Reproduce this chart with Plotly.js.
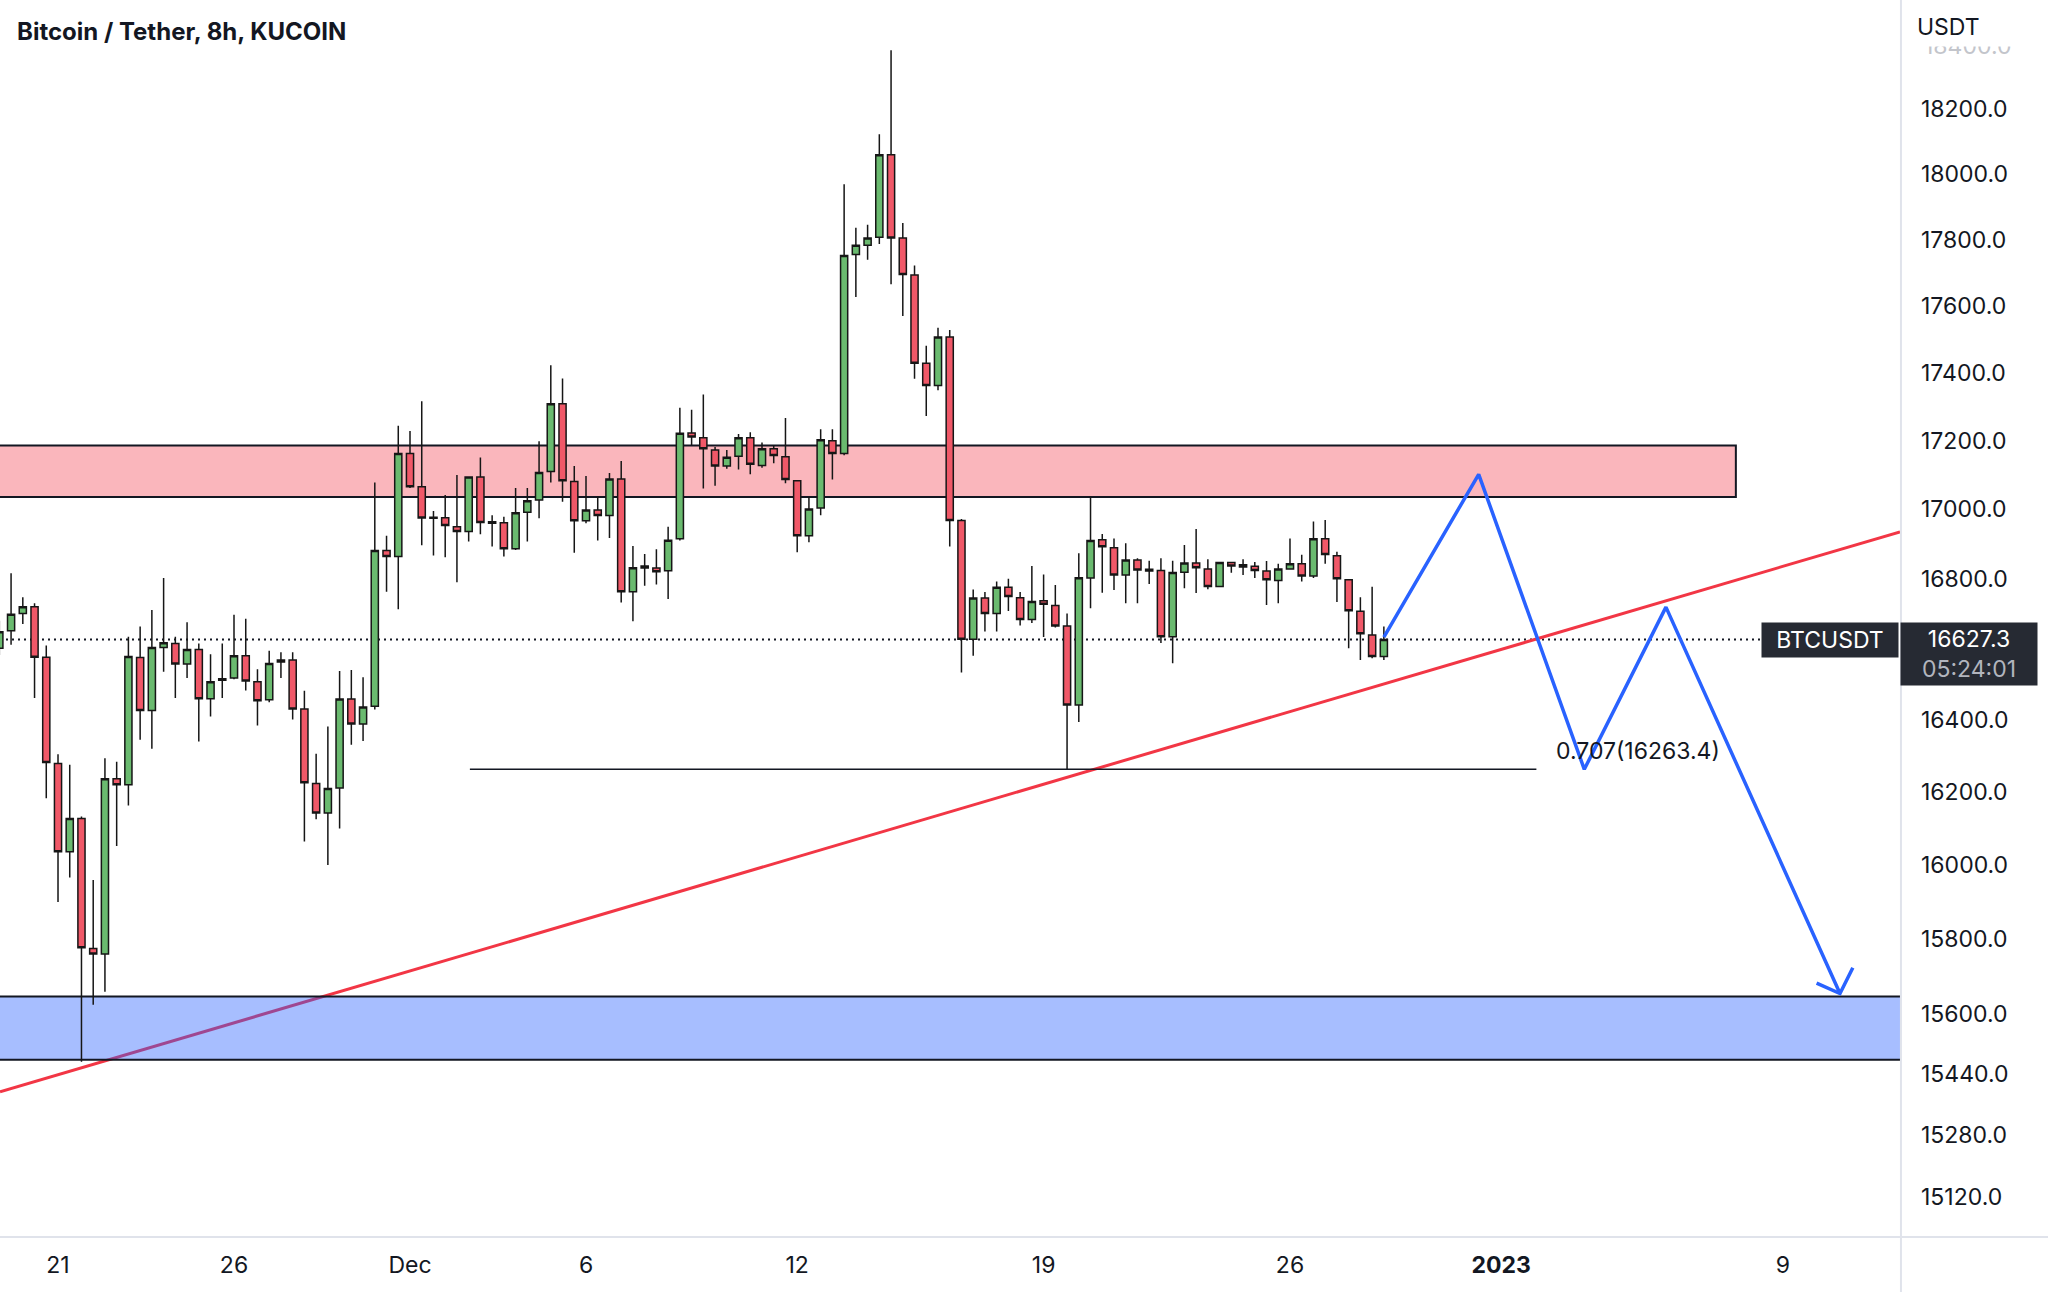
<!DOCTYPE html>
<html>
<head>
<meta charset="utf-8">
<script src="https://cdn.plot.ly/plotly-3.0.1.min.js"></script>
<style>
  html, body { margin: 0; padding: 0; background: #ffffff; }
  #chart { width: 2048px; height: 1292px; }
</style>
</head>
<body>
<div id="chart"></div>
<script>
// ---- Data: BTCUSDT 8h candles, first candle 2022-11-19 08:00 (UTC) ----
const firstCandle = '2022-11-19T08:00:00Z';
const candleHours = 8;

const open = [
  16602,16652,16701,16720,16577,16279,16036,16127,15774,15759,
  16237,16220,16576,16427,16604,16616,16558,16599,16460,16512,
  16518,16581,16508,16457,16569,16569,16431,16224,16142,16211,
  16459,16389,16439,16881,16864,17163,17066,16977,16976,16950,
  16936,17094,16964,16961,16886,16992,17027,17110,17309,17081,
  16967,16998,16982,17088,16763,16831,16831,16823,16915,17223,
  17209,17173,17126,17155,17209,17128,17177,17153,17083,16924,
  17004,17200,17163,17755,17783,17807,18060,17805,17693,17429,
  17363,17507,16968,16628,16745,16701,16776,16746,16684,16737,
  16724,16665,16442,16802,16912,16889,16811,16854,16827,16824,
  16635,16819,16845,16828,16778,16847,16840,16836,16822,16795,
  16828,16843,16808,16915,16866,16797,16707,16640,16579
];
const high = [
  16680,16816,16747,16730,16610,16305,16276,16133,15959,16294,
  16284,16635,16664,16711,16802,16635,16676,16616,16585,16616,
  16697,16686,16543,16595,16591,16591,16482,16306,16382,16538,
  16541,16520,17078,16924,17244,17229,17316,16995,17042,17100,
  17096,17151,16983,16979,17062,17062,17199,17423,17384,17126,
  17097,17039,17106,17141,16894,16871,16885,16950,17297,17291,
  17336,17182,17173,17220,17225,17195,17188,17267,17085,17036,
  17234,17234,17969,17836,17845,18123,18384,17851,17722,17481,
  17535,17528,16972,16769,16762,16792,16800,16762,16837,16812,
  16782,16701,16873,17037,16929,16916,16902,16859,16852,16859,
  16852,16897,16943,16856,16847,16847,16856,16848,16851,16843,
  16916,16869,16965,16969,16878,16797,16747,16777,16664
];
const low = [
  16583,16612,16671,16462,16183,15899,15966,15472,15623,15658,
  16052,16163,16345,16320,16536,16462,16518,16340,16410,16462,
  16515,16483,16385,16450,16518,16402,16064,16125,16000,16100,
  16331,16342,16430,16763,16713,17062,16896,16867,16862,16790,
  16907,16928,16893,16864,16883,16907,16974,17078,17022,16875,
  16960,16910,16917,16732,16679,16780,16784,16742,16910,17188,
  17061,17069,17118,17116,17102,17121,17134,17076,16876,16905,
  16983,17087,17158,17627,17739,17787,17665,17570,17383,17273,
  17349,16893,16534,16581,16650,16650,16708,16667,16674,16634,
  16661,16263.4,16395,16716,16760,16768,16730,16730,16785,16617,
  16560,16773,16759,16770,16778,16817,16811,16802,16725,16730,
  16826,16792,16802,16843,16734,16602,16569,16574,16569
];
const close = [
  16649,16699,16720,16577,16282,16036,16127,15776,15759,16237,
  16220,16579,16427,16604,16618,16558,16599,16460,16508,16516,
  16581,16510,16454,16559,16563,16431,16226,16142,16210,16459,
  16389,16437,16881,16864,17163,17066,16975,16974,16953,16936,
  17094,16962,16960,16886,16990,17025,17107,17309,17083,16967,
  16998,16982,17088,16763,16832,16837,16820,16911,17222,17211,
  17177,17126,17152,17209,17131,17177,17157,17087,16924,17001,
  17203,17163,17752,17783,17805,18060,17805,17695,17429,17363,
  17507,16968,16628,16745,16701,16776,16749,16684,16735,16727,
  16665,16442,16803,16910,16892,16811,16854,16825,16822,16635,
  16818,16845,16832,16778,16847,16837,16834,16824,16797,16828,
  16843,16808,16915,16870,16800,16709,16643,16579,16627.3
];

// Axis ticks
const priceTicks = [15120,15280,15440,15600,15800,16000,16200,16400,16800,17000,17200,17400,17600,17800,18000,18200];
const dateTicks = ['2022-11-21','2022-11-26','2022-12-01','2022-12-06','2022-12-12','2022-12-19','2022-12-26','2023-01-01','2023-01-09'];
const dateTickLabels = ['21','26','Dec','6','12','19','26','<b>2023</b>','9'];

// Drawings
const resistanceZone = [17036, 17186];          // pink box (price bottom, top)
const resistanceEnd = '2023-01-07 16:00';
const supportZone = [15477, 15645];             // blue box (price bottom, top)
const trendTimes = ['2022-11-19 08:27', '2023-01-12 07:55'];
const trendPrices = [15393, 16935];
const fibTimes = ['2022-12-02 16:50', '2023-01-02 00:00'];
const fibPrice = 16263.4;
const fibLabel = '0.707(16263.4)';
const pathTimes = ['2022-12-28 16:00','2022-12-31 08:40','2023-01-03 08:40','2023-01-05 16:20','2023-01-10 15:00'];
const pathPrices = [16634, 17102, 16263, 16719, 15653];
const arrowTimes = ['2023-01-09 23:03','2023-01-10 15:00','2023-01-10 23:45'];
const arrowPrices = [15681, 15653, 15722];
const lastPrice = 16627.3;
const countdown = '05:24:01';
const symbol = 'BTCUSDT';
const topTickFaded = 18400;

// ---- build ----
const t0 = Date.parse(firstCandle);
function fmt(ms) { return new Date(ms).toISOString().slice(0, 16).replace('T', ' '); }
const times = open.map((_, i) => fmt(t0 + i * candleHours * 3600e3));

const FONT = 'Inter, "Noto Sans", Roboto, sans-serif';
const TXT = '#131722';

const W = 2048, H = 1292, R = 148, B = 55;
const PW = W - R, PH = H - B;
const px = x => x / PW;
const py = y => 1 - y / PH;

const traces = [
  {
    type: 'candlestick',
    x: times, open: open, high: high, low: low, close: close,
    increasing: { line: { color: '#161616', width: 1.5 }, fillcolor: '#6aba6f' },
    decreasing: { line: { color: '#161616', width: 1.5 }, fillcolor: '#f05868' },
    whiskerwidth: 0,
    hoverinfo: 'skip',
    showlegend: false
  },
  {
    type: 'scatter', mode: 'lines',
    x: fibTimes, y: [fibPrice, fibPrice],
    line: { color: TXT, width: 1.6 },
    hoverinfo: 'skip', showlegend: false
  },
  {
    type: 'scatter', mode: 'lines',
    x: pathTimes, y: pathPrices,
    line: { color: '#2962ff', width: 3.5 },
    hoverinfo: 'skip', showlegend: false
  },
  {
    type: 'scatter', mode: 'lines',
    x: arrowTimes, y: arrowPrices,
    line: { color: '#2962ff', width: 3.5 },
    hoverinfo: 'skip', showlegend: false
  }
];

const shapes = [
  { type: 'rect', xref: 'x', yref: 'y', layer: 'below',
    x0: '2022-11-15', x1: resistanceEnd, y0: resistanceZone[0], y1: resistanceZone[1],
    fillcolor: 'rgba(242,54,69,0.36)', line: { color: TXT, width: 2 } },
  { type: 'line', xref: 'x', yref: 'y', layer: 'below',
    x0: trendTimes[0], x1: trendTimes[1], y0: trendPrices[0], y1: trendPrices[1],
    line: { color: '#f23645', width: 3 } },
  { type: 'rect', xref: 'x', yref: 'y', layer: 'below',
    x0: '2022-11-15', x1: '2023-01-25', y0: supportZone[0], y1: supportZone[1],
    fillcolor: 'rgba(41,98,255,0.41)', line: { color: TXT, width: 2 } },
  { type: 'line', xref: 'paper', yref: 'y', layer: 'below',
    x0: 0, x1: 1, y0: lastPrice, y1: lastPrice,
    line: { color: TXT, width: 2, dash: '2px,4px' } },
  { type: 'line', xref: 'paper', yref: 'paper', layer: 'above',
    x0: 1.0005, x1: 1.0005, y0: -B / PH, y1: 1,
    line: { color: '#e0e3eb', width: 2 } },
  { type: 'line', xref: 'paper', yref: 'paper', layer: 'above',
    x0: 0, x1: W / PW, y0: 0, y1: 0,
    line: { color: '#e0e3eb', width: 2 } }
];

const annotations = [
  { xref: 'paper', yref: 'paper', x: px(15), y: py(32), xanchor: 'left', yanchor: 'middle',
    text: '<b>Bitcoin / Tether, 8h, KUCOIN</b>', showarrow: false,
    font: { family: FONT, size: 24, color: TXT } },
  { xref: 'paper', yref: 'paper', x: px(1922), y: py(46), xanchor: 'left', yanchor: 'middle',
    text: topTickFaded.toFixed(1), showarrow: false,
    font: { family: FONT, size: 23, color: '#c3c5cb' } },
  { xref: 'paper', yref: 'paper', x: px(1916), y: py(26.5), xanchor: 'left', yanchor: 'middle',
    text: 'USDT', showarrow: false, width: 126, height: 39, align: 'left',
    bgcolor: '#ffffff', borderpad: 0,
    font: { family: FONT, size: 23, color: TXT } },
  { xref: 'paper', yref: 'paper', x: px(1830), y: py(640), xanchor: 'center', yanchor: 'middle',
    text: symbol, showarrow: false, width: 136, height: 34, bgcolor: '#262a33', borderpad: 0,
    font: { family: FONT, size: 23, color: '#ffffff' } },
  { xref: 'paper', yref: 'paper', x: px(1969), y: py(654), xanchor: 'center', yanchor: 'middle',
    text: lastPrice.toFixed(1) + '<br><span style="color:#b2b5be">' + countdown + '</span>',
    showarrow: false, width: 136, height: 62, bgcolor: '#262a33', borderpad: 0,
    font: { family: FONT, size: 23, color: '#ffffff' } },
  { xref: 'paper', yref: 'paper', x: px(1554), y: py(751), xanchor: 'left', yanchor: 'middle',
    text: fibLabel, showarrow: false,
    font: { family: FONT, size: 23, color: TXT } }
];

const layout = {
  width: W, height: H,
  margin: { l: 0, r: R, t: 0, b: B, pad: 0 },
  paper_bgcolor: '#ffffff', plot_bgcolor: '#ffffff',
  showlegend: false,
  boxgap: 0.22, boxgroupgap: 0.22,
  font: { family: FONT, color: TXT },
  xaxis: {
    type: 'date',
    range: ['2022-11-19 08:27', '2023-01-12 07:55'],
    rangeslider: { visible: false },
    tickvals: dateTicks, ticktext: dateTickLabels,
    ticks: '', showgrid: false, zeroline: false, showline: false,
    tickfont: { family: FONT, size: 23, color: TXT },
    ticklabelstandoff: 12,
    fixedrange: true
  },
  yaxis: {
    type: 'log',
    range: [4.176570, 4.268168],
    side: 'right',
    tickvals: priceTicks, ticktext: priceTicks.map(v => v.toFixed(1)),
    ticks: '', showgrid: false, zeroline: false, showline: false,
    tickfont: { family: FONT, size: 23, color: TXT },
    ticklabelstandoff: 20,
    fixedrange: true
  },
  shapes: shapes,
  annotations: annotations
};

Plotly.newPlot('chart', traces, layout, { staticPlot: true, displayModeBar: false });
</script>
</body>
</html>
